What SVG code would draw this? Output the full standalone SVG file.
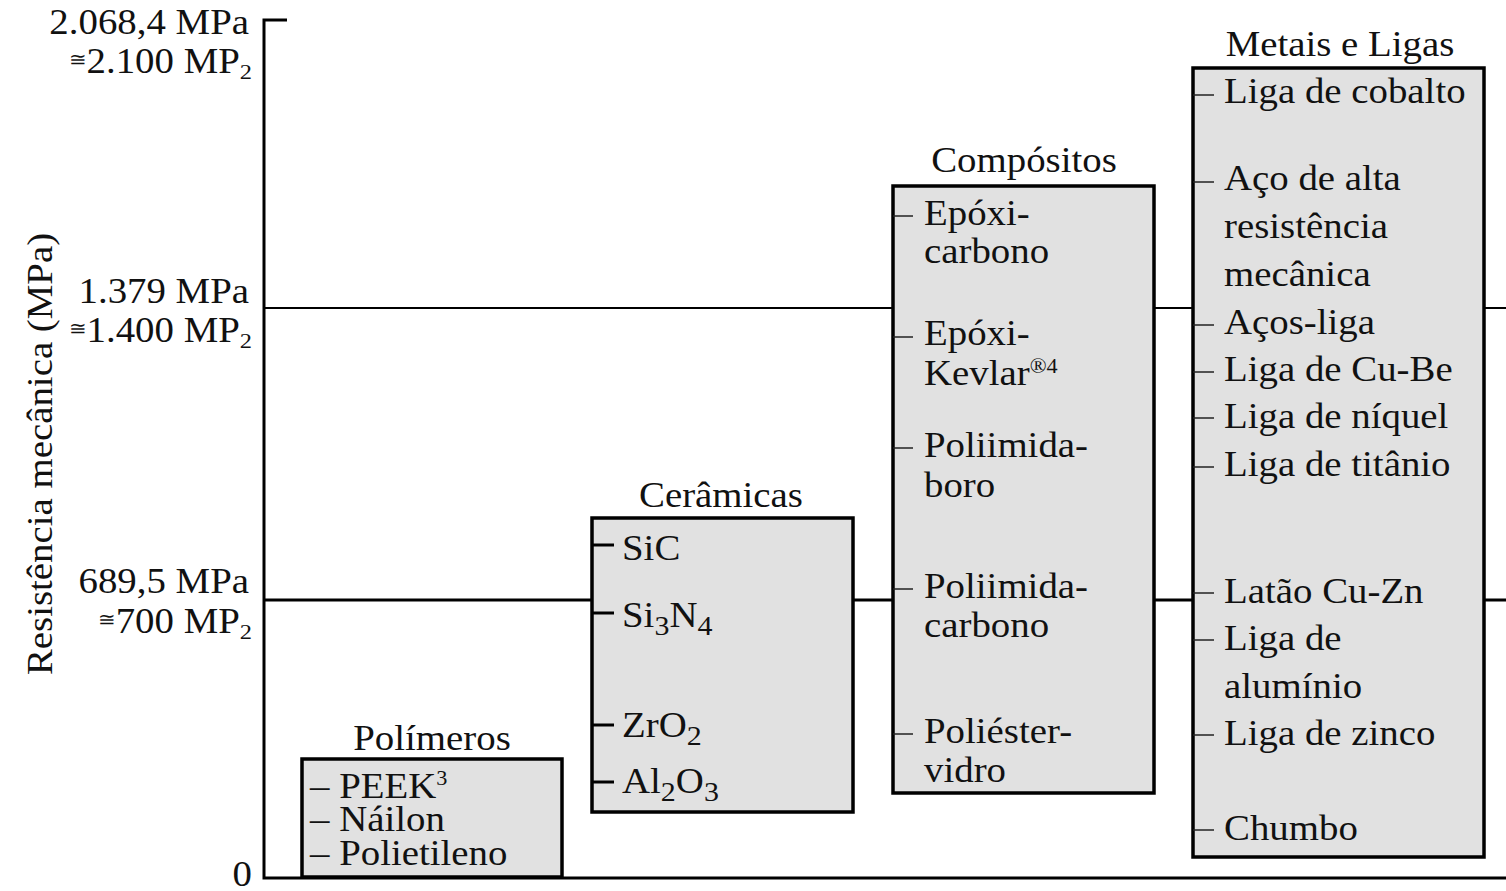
<svg xmlns="http://www.w3.org/2000/svg" width="1506" height="891" viewBox="0 0 1506 891">
  <style>
    .t { font-family: "Liberation Serif", "Times New Roman", "DejaVu Serif", serif; font-size: 35px; fill: #111; }
    .mid { text-anchor: middle; }
    .end { text-anchor: end; }
    .sub { font-size: 27px; }
    .sm { font-size: 22px; }
    .sup { font-size: 20px; }
    .eq { font-size: 19px; font-family: "DejaVu Serif", "Liberation Serif", serif; }
    .box { fill: #e1e1e1; stroke: #000; stroke-width: 3.5; }
    .grid { stroke: #000; fill: none; }
    .tick { stroke: #222; stroke-width: 1.5; }
    .tickb { stroke: #000; stroke-width: 3; }
  </style>

  <!-- axis and reference lines -->
  <g id="connectors">
    <path class="grid" stroke-width="3" d="M287 20 H264 V878 H1506"/>
    <line class="grid" stroke-width="2.2" x1="264" y1="308" x2="1506" y2="308"/>
    <line class="grid" stroke-width="3.2" x1="264" y1="600" x2="1506" y2="600"/>
  </g>

  <!-- axis labels -->
  <g id="axis">
    <text class="t" transform="matrix(0 -1.11 1 0 52 454)" text-anchor="middle">Resistência mecânica (MPa)</text>
    <text class="t end" transform="matrix(1.11 0 0 1 249 34)">2.068,4 MPa</text>
    <text class="t end" transform="matrix(1.11 0 0 1 252 73)"><tspan class="eq" dy="-7">≅</tspan><tspan dy="7">2.100 MP</tspan><tspan class="sm" dy="6">2</tspan></text>
    <text class="t end" transform="matrix(1.11 0 0 1 249 303)">1.379 MPa</text>
    <text class="t end" transform="matrix(1.11 0 0 1 252 342)"><tspan class="eq" dy="-7">≅</tspan><tspan dy="7">1.400 MP</tspan><tspan class="sm" dy="6">2</tspan></text>
    <text class="t end" transform="matrix(1.11 0 0 1 249 593)">689,5 MPa</text>
    <text class="t end" transform="matrix(1.11 0 0 1 252 633)"><tspan class="eq" dy="-7">≅</tspan><tspan dy="7">700 MP</tspan><tspan class="sm" dy="6">2</tspan></text>
    <text class="t end" transform="matrix(1.11 0 0 1 252 886)">0</text>
  </g>

  <!-- polymers -->
  <g id="polimeros">
    <rect class="box" x="302" y="759" width="260" height="118"/>
    <text class="t mid" transform="matrix(1.11 0 0 1 432 750)">Polímeros</text>
    <text class="t" transform="matrix(1.11 0 0 1 310 798)">– PEEK<tspan class="sup" dy="-13">3</tspan></text>
    <text class="t" transform="matrix(1.11 0 0 1 310 831)">– Náilon</text>
    <text class="t" transform="matrix(1.11 0 0 1 310 865)">– Polietileno</text>
  </g>

  <!-- ceramics -->
  <g id="ceramicas">
    <rect class="box" x="592" y="518" width="261" height="294"/>
    <text class="t mid" transform="matrix(1.11 0 0 1 721 507)">Cerâmicas</text>
    <line class="tickb" x1="592" y1="545" x2="614" y2="545"/>
    <line class="tickb" x1="592" y1="613" x2="614" y2="613"/>
    <line class="tickb" x1="592" y1="725" x2="614" y2="725"/>
    <line class="tickb" x1="592" y1="782" x2="614" y2="782"/>
    <text class="t" transform="matrix(1.11 0 0 1 622 560)">SiC</text>
    <text class="t" transform="matrix(1.11 0 0 1 622 627)">Si<tspan class="sub" dy="8">3</tspan><tspan dy="-8">N</tspan><tspan class="sub" dy="8">4</tspan></text>
    <text class="t" transform="matrix(1.11 0 0 1 622 737)">ZrO<tspan class="sub" dy="8">2</tspan></text>
    <text class="t" transform="matrix(1.11 0 0 1 622 793)">Al<tspan class="sub" dy="8">2</tspan><tspan dy="-8">O</tspan><tspan class="sub" dy="8">3</tspan></text>
  </g>

  <!-- composites -->
  <g id="compositos">
    <rect class="box" x="893" y="186" width="261" height="607"/>
    <text class="t mid" transform="matrix(1.11 0 0 1 1024 172)">Compósitos</text>
    <line class="tick" x1="893" y1="216" x2="913" y2="216"/>
    <line class="tick" x1="893" y1="337" x2="913" y2="337"/>
    <line class="tick" x1="893" y1="448" x2="913" y2="448"/>
    <line class="tick" x1="893" y1="589" x2="913" y2="589"/>
    <line class="tick" x1="893" y1="734" x2="913" y2="734"/>
    <text class="t" transform="matrix(1.11 0 0 1 924 225)">Epóxi-</text>
    <text class="t" transform="matrix(1.11 0 0 1 924 263)">carbono</text>
    <text class="t" transform="matrix(1.11 0 0 1 924 345)">Epóxi-</text>
    <text class="t" transform="matrix(1.11 0 0 1 924 385)">Kevlar<tspan class="sup" dy="-12">®4</tspan></text>
    <text class="t" transform="matrix(1.11 0 0 1 924 457)">Poliimida-</text>
    <text class="t" transform="matrix(1.11 0 0 1 924 497)">boro</text>
    <text class="t" transform="matrix(1.11 0 0 1 924 598)">Poliimida-</text>
    <text class="t" transform="matrix(1.11 0 0 1 924 637)">carbono</text>
    <text class="t" transform="matrix(1.11 0 0 1 924 743)">Poliéster-</text>
    <text class="t" transform="matrix(1.11 0 0 1 924 782)">vidro</text>
  </g>

  <!-- metals and alloys -->
  <g id="metais">
    <rect class="box" x="1193" y="68" width="291" height="789"/>
    <text class="t mid" transform="matrix(1.11 0 0 1 1340 56)">Metais e Ligas</text>
    <line class="tick" x1="1193" y1="95" x2="1214" y2="95"/>
    <line class="tick" x1="1193" y1="182" x2="1214" y2="182"/>
    <line class="tick" x1="1193" y1="325" x2="1214" y2="325"/>
    <line class="tick" x1="1193" y1="372" x2="1214" y2="372"/>
    <line class="tick" x1="1193" y1="418" x2="1214" y2="418"/>
    <line class="tick" x1="1193" y1="467" x2="1214" y2="467"/>
    <line class="tick" x1="1193" y1="593" x2="1214" y2="593"/>
    <line class="tick" x1="1193" y1="640" x2="1214" y2="640"/>
    <line class="tick" x1="1193" y1="735" x2="1214" y2="735"/>
    <line class="tick" x1="1193" y1="830" x2="1214" y2="830"/>
    <text class="t" transform="matrix(1.11 0 0 1 1224 103)">Liga de cobalto</text>
    <text class="t" transform="matrix(1.11 0 0 1 1224 190)">Aço de alta</text>
    <text class="t" transform="matrix(1.11 0 0 1 1224 238)">resistência</text>
    <text class="t" transform="matrix(1.11 0 0 1 1224 286)">mecânica</text>
    <text class="t" transform="matrix(1.11 0 0 1 1224 334)">Aços-liga</text>
    <text class="t" transform="matrix(1.11 0 0 1 1224 381)">Liga de Cu-Be</text>
    <text class="t" transform="matrix(1.11 0 0 1 1224 428)">Liga de níquel</text>
    <text class="t" transform="matrix(1.11 0 0 1 1224 476)">Liga de titânio</text>
    <text class="t" transform="matrix(1.11 0 0 1 1224 603)">Latão Cu-Zn</text>
    <text class="t" transform="matrix(1.11 0 0 1 1224 650)">Liga de</text>
    <text class="t" transform="matrix(1.11 0 0 1 1224 698)">alumínio</text>
    <text class="t" transform="matrix(1.11 0 0 1 1224 745)">Liga de zinco</text>
    <text class="t" transform="matrix(1.11 0 0 1 1224 840)">Chumbo</text>
  </g>
</svg>
